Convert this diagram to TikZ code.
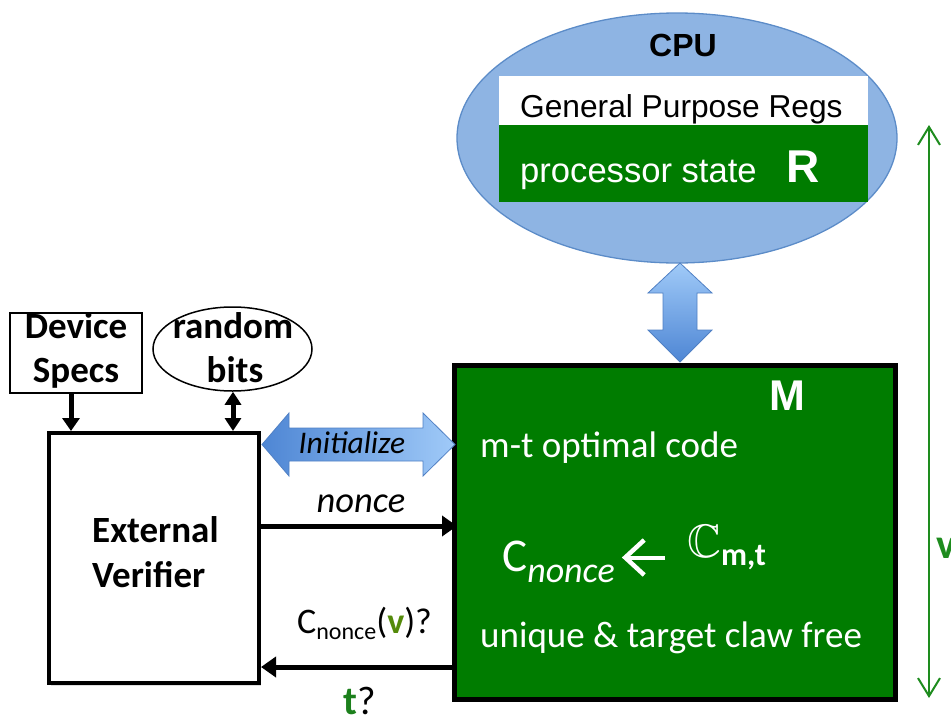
\documentclass[tikz,border=0pt]{standalone}
\usepackage{fontspec}
\usepackage{amssymb}
\setmainfont{Carlito}
\newfontfamily\arialfont{Liberation Sans}
\usetikzlibrary{arrows.meta,shapes.geometric,shadows,calc}

\definecolor{mgreen}{RGB}{0,124,0}
\definecolor{cpufill}{RGB}{142,180,227}
\definecolor{cpuedge}{RGB}{92,140,200}
\definecolor{blkedge}{RGB}{80,128,196}
\definecolor{blkdark}{RGB}{78,134,212}
\definecolor{blklight}{RGB}{160,202,248}
\definecolor{vgreen}{RGB}{84,138,10}
\definecolor{tgreen}{RGB}{28,128,28}
\definecolor{linegreen}{RGB}{30,140,30}

\newcommand{\fsz}[1]{\fontsize{#1}{#1}\selectfont}

\tikzset{
  label/.style={inner sep=0pt, anchor=base},
  bigbox/.style={draw=black, fill=mgreen, line width=5pt, inner sep=0pt,
    drop shadow={opacity=0.25, shadow xshift=2pt, shadow yshift=-3pt}},
  verbox/.style={draw=black, fill=white, line width=4pt, inner sep=0pt,
    drop shadow={opacity=0.25, shadow xshift=2pt, shadow yshift=-3pt}},
  thickarrow/.style={line width=5pt, -{Triangle[length=15pt,width=20pt]}},
  smallarrow/.style={line width=5pt},
  blockarrow/.style={draw=blkedge, line width=0.8pt},
}

\begin{document}
\begin{tikzpicture}[x=1pt,y=-1pt]
\useasboundingbox (0,0) rectangle (951,718);

% ---- CPU ----
\node[ellipse, draw=cpuedge, fill=cpufill, line width=1.3pt, inner sep=0pt,
      minimum width=440pt, minimum height=250pt] (cpu) at (677,138) {};
\node[label, font=\arialfont\bfseries\fsz{32}] (cputitle) at (683,56) {CPU};
\node[fill=white, inner sep=0pt, minimum width=369pt, minimum height=49pt,
      anchor=north west] (gpr) at (499,76) {};
\node[label, anchor=base west, font=\arialfont\fsz{31.7}] (gprtext) at (520,117)
  {General Purpose Regs};
\node[fill=mgreen, inner sep=0pt, minimum width=369pt, minimum height=77pt,
      anchor=north west] (pstate) at (499,125) {};
\node[label, anchor=base west, text=white, font=\arialfont\fsz{34.6}] (pstext) at (520,182)
  {processor state};
\node[label, anchor=base west, text=white, font=\arialfont\bfseries\fsz{46}] (regR) at (786,182) {R};

% ---- memory M ----
\node[bigbox, minimum width=441pt, minimum height=334pt] (M) at (675,532) {};
\node[label, anchor=base west, text=white, font=\arialfont\bfseries\fsz{43}] (mtitle) at (769,410) {M};
\node[label, anchor=base west, text=white, font=\fsz{37}] (mcode) at (480,457) {m-t optimal code};
\node[label, anchor=base west, text=white, font=\fsz{47}] (cnonce) at (502,571)
  {C\raisebox{-11pt}{\fsz{36}\itshape nonce}};
\node[label, anchor=base west, text=white, font=\fsz{47}] (cfamily) at (687,557)
  {$\mathbb{C}$\raisebox{-8pt}{\fsz{32}\bfseries m,t}};
\coordinate (arry) at (0,557.5);
\draw[white, line width=4pt, -{Straight Barb[length=19pt,width=35pt,line width=4.5pt]}]
  ([xshift=-22pt]cfamily.west |- arry) -- ([xshift=7pt]cnonce.east |- arry);
\node[label, anchor=base west, text=white, font=\fsz{37}] (mfree) at (480,647) {unique \& target claw free};

% CPU <-> M block arrow
\shade[top color=blklight, bottom color=blkdark, blockarrow]
  (680,263) -- (712,293) -- (697,293) -- (697,330) -- (712,330) -- (680,362)
  -- (648,330) -- (663,330) -- (663,293) -- (648,293) -- cycle;

% ---- External verifier side ----
\node[verbox, minimum width=210pt, minimum height=250pt] (ver) at (154,558) {};
\node[label, anchor=base west, font=\bfseries\fsz{37}] (vertext1) at (92,542) {External};
\node[label, anchor=base west, font=\bfseries\fsz{37}] (vertext2) at (92,587) {Verifier};

\node[draw=black, line width=2pt, fill=white, inner sep=0pt,
      minimum width=132pt, minimum height=80pt] (specs) at (76,353) {};
\node[label, font=\bfseries\fsz{37}] (specs1) at (76,338) {Device};
\node[label, font=\bfseries\fsz{37}] (specs2) at (76,382) {Specs};

\node[ellipse, draw=black, line width=1.5pt, fill=white, inner sep=0pt,
      minimum width=159pt, minimum height=84pt] (rbits) at (232.5,349) {};
\node[label, font=\bfseries\fsz{37}] (rbits1) at (233,338) {random};
\node[label, font=\bfseries\fsz{37}] (rbits2) at (235,382) {bits};

\draw[smallarrow, -{Triangle[length=13pt,width=17pt]}]
  (specs.south -| 71,0) -- (ver.north -| 71,0);
\draw[smallarrow, {Triangle[length=13pt,width=16pt]}-{Triangle[length=13pt,width=16pt]}]
  (rbits.south -| 233,0) -- (ver.north -| 233,0);

% Initialize block arrow
\shade[left color=blkdark, right color=blklight, blockarrow]
  (262,444.5) -- (289,413) -- (289,428) -- (423,428) -- (423,413) -- (455,444.5)
  -- (423,476) -- (423,461) -- (289,461) -- (289,476) -- cycle;
\node[label, font=\itshape\fsz{31.5}] (initlbl) at (352,453) {Initialize};

% nonce and response
\coordinate (ny) at (0,526);
\coordinate (ry) at (0,667);
\draw[thickarrow] (ver.east |- ny) -- ([xshift=5pt]M.west |- ny);
\node[label, font=\itshape\fsz{36.5}] (noncelbl) at (361,512) {nonce};
\draw[thickarrow] ([xshift=3pt]M.west |- ry) -- (ver.east |- ry);
\node[label, anchor=base west, font=\fsz{36}] (resplbl) at (297,633)
  {C\raisebox{-6pt}{\fsz{24}nonce}(\textcolor{vgreen}{\bfseries v})?};
\node[label, anchor=base west, font=\fsz{40}] (tlbl) at (343,714)
  {\textcolor{tgreen}{\bfseries t}?};

% time axis on the right
\coordinate (ttop) at (929,125);
\coordinate (tbot) at (929,698);
\draw[linegreen, line width=2pt,
      {Straight Barb[length=18pt,width=22pt]}-{Straight Barb[length=18pt,width=22pt]}]
  (ttop) -- (tbot);
\node[label, anchor=base west, text=linegreen, font=\bfseries\fsz{42}] (vlbl) at (936,558) {v};

\end{tikzpicture}
\end{document}
